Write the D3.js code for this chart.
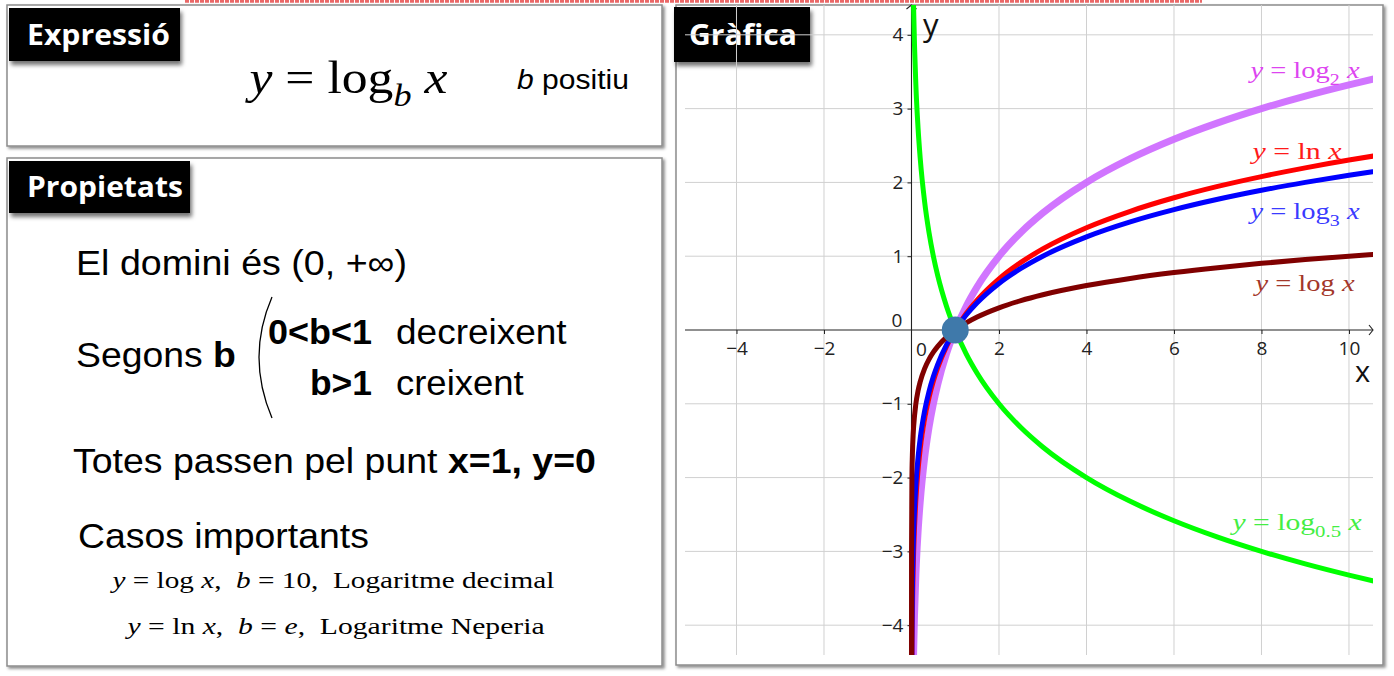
<!DOCTYPE html>
<html><head><meta charset="utf-8">
<script src="https://cdn.jsdelivr.net/npm/d3@7"></script>
<style>
html,body{margin:0;padding:0;background:#fff;}
svg{display:block;}
text{white-space:pre;}
</style></head>
<body>
<svg id="c" width="1394" height="676"></svg>
<script>
// ---------------- DATA ----------------
const xTicks = [-4, -2, 0, 2, 4, 6, 8, 10];
const yTicks = [-4, -3, -2, -1, 0, 1, 2, 3, 4];
const xGrid = [-4, -2, 2, 4, 6, 8, 10];
const yGrid = [-4, -3, -2, -1, 1, 2, 3, 4];
const xSamples = [0.00003, 0.001, 0.01, 0.02, 0.04, 0.05, 0.1, 0.15, 0.2, 0.3, 0.4, 0.5, 0.6, 0.8, 1, 1.25, 1.5, 2, 2.5, 3, 4, 5, 6, 7, 8, 9, 10, 10.6];
const log2Values = [-15.025, -9.966, -6.644, -5.644, -4.644, -4.322, -3.322, -2.737, -2.322, -1.737, -1.322, -1, -0.737, -0.322, 0, 0.322, 0.585, 1, 1.322, 1.585, 2, 2.322, 2.585, 2.807, 3, 3.170, 3.322, 3.406];
const lnValues = [-10.414, -6.908, -4.605, -3.912, -3.219, -2.996, -2.303, -1.897, -1.609, -1.204, -0.916, -0.693, -0.511, -0.223, 0, 0.223, 0.405, 0.693, 0.916, 1.099, 1.386, 1.609, 1.792, 1.946, 2.079, 2.197, 2.303, 2.361];
const log3Values = [-9.479, -6.288, -4.192, -3.561, -2.930, -2.727, -2.096, -1.727, -1.465, -1.096, -0.834, -0.631, -0.465, -0.203, 0, 0.203, 0.369, 0.631, 0.834, 1, 1.262, 1.465, 1.631, 1.771, 1.893, 2, 2.096, 2.149];
const log05Values = [15.025, 9.966, 6.644, 5.644, 4.644, 4.322, 3.322, 2.737, 2.322, 1.737, 1.322, 1, 0.737, 0.322, 0, -0.322, -0.585, -1, -1.322, -1.585, -2, -2.322, -2.585, -2.807, -3, -3.170, -3.322, -3.406];
const log10Values = [-4.523, -3, -2, -1.699, -1.398, -1.301, -1, -0.824, -0.699, -0.523, -0.398, -0.301, -0.222, -0.097, 0, 0.097, 0.176, 0.301, 0.398, 0.477, 0.602, 0.699, 0.778, 0.845, 0.903, 0.954, 1, 1.025];
const seriesNames = ["log2", "ln", "log3", "log05", "log10"];
const commonPoint = [1, 0];

// ---------------- STYLE ----------------
const seriesStyle = {
  log2:  {color: "#cc66ff", width: 7, opacity: 0.9},
  ln:    {color: "#ff0000", width: 5, opacity: 1},
  log3:  {color: "#0000ff", width: 5, opacity: 1},
  log05: {color: "#00ff00", width: 5, opacity: 1},
  log10: {color: "#800000", width: 5, opacity: 1}
};
const seriesValues = {log2: log2Values, ln: lnValues, log3: log3Values, log05: log05Values, log10: log10Values};

const svg = d3.select("#c");
const defs = svg.append("defs");
const sh = defs.append("filter").attr("id","sh").attr("x","-5%").attr("y","-5%").attr("width","115%").attr("height","120%");
sh.append("feDropShadow").attr("dx",2).attr("dy",2).attr("stdDeviation",1.6).attr("flood-color","#000").attr("flood-opacity",0.45);
const sh2 = defs.append("filter").attr("id","sh2").attr("x","-10%").attr("y","-10%").attr("width","130%").attr("height","140%");
sh2.append("feDropShadow").attr("dx",2).attr("dy",4).attr("stdDeviation",2).attr("flood-color","#000").attr("flood-opacity",0.55);

// red dotted strip at top
svg.append("line").attr("x1",185).attr("x2",1202).attr("y1",1.3).attr("y2",1.3)
  .attr("stroke","#e85858").attr("stroke-width",3).attr("stroke-dasharray","4 1").attr("opacity",0.9);

// panels
function panel(x,y,w,h){
  svg.append("rect").attr("x",x).attr("y",y).attr("width",w).attr("height",h)
    .attr("fill","#fff").attr("stroke","#8c8c8c").attr("stroke-width",1.5).attr("filter","url(#sh)");
}
panel(7,5,655,141);
panel(7,158,655,508);
panel(676,5,707,660);

// text helper: segments [{t, i, b, sub}], fitted to width
function richText(segs, o){
  const g = svg.append("g");
  const t = g.append("text").attr("font-family", o.family).attr("font-size", o.size)
    .attr("fill", o.fill || "#000").attr("font-weight", o.weight || "normal")
    .attr("xml:space","preserve");
  let shift = 0;
  segs.forEach(s => {
    const ts = t.append("tspan").text(s.t);
    if (s.i) ts.attr("font-style","italic");
    if (s.b) ts.attr("font-weight","bold");
    const target = s.sub ? o.size*0.28 : 0;
    if (target !== shift){ ts.attr("dy", target - shift); shift = target; }
    if (s.sub) ts.attr("font-size", o.size*0.7);
  });
  const bb = t.node().getBBox();
  const sx = o.width ? o.width / bb.width : 1;
  g.attr("transform", `translate(${o.x - bb.x*sx},${o.y}) scale(${sx},1)`);
  return g;
}

// header boxes
function header(label, x, y, w, h, tx, tw){
  svg.append("rect").attr("x",x).attr("y",y).attr("width",w).attr("height",h).attr("fill","#000").attr("filter","url(#sh2)");
  richText([{t:label}], {x:tx, y:y+h/2+10, size:28, family:"Open Sans", weight:"bold", fill:"#fff", width:tw});
}
header("Expressió", 9, 8, 171, 53, 27, 143);
header("Propietats", 9, 161, 181, 52, 27, 156);
header("Gràfica", 674, 7, 136, 55, 689, 108);

const SERIF = "Liberation Serif";
const SANS = "Liberation Sans";
const SP = "\u2002";

// Expressió content
richText([{t:"y",i:1},{t:" = "},{t:"log"},{t:"b",i:1,sub:1},{t:" "},{t:"x",i:1}], {x:245, y:93, size:46, family:SERIF, width:203});
richText([{t:"b",i:1},{t:" positiu"}], {x:517, y:89, size:27, family:SANS, width:112});

// Propietats content
richText([{t:"El domini és (0, +∞)"}], {x:76, y:275, size:35, family:SANS, width:331});
richText([{t:"Segons "},{t:"b",b:1}], {x:76, y:367, size:35, family:SANS, width:160});
richText([{t:"0<b<1",b:1}], {x:268, y:344, size:35, family:SANS, width:104});
richText([{t:"decreixent"}], {x:396, y:344, size:35, family:SANS, width:171});
richText([{t:"b>1",b:1}], {x:310, y:395, size:35, family:SANS, width:62});
richText([{t:"creixent"}], {x:396, y:395, size:35, family:SANS, width:128});
svg.append("path").attr("d","M272,297 Q246,357 272,418").attr("fill","none").attr("stroke","#000").attr("stroke-width",1.3);
richText([{t:"Totes passen pel punt "},{t:"x=1, y=0",b:1}], {x:73, y:473, size:35, family:SANS, width:523});
richText([{t:"Casos importants"}], {x:78, y:548, size:35, family:SANS, width:291});
richText([{t:"y",i:1},{t:" = log "},{t:"x",i:1},{t:","+SP},{t:"b",i:1},{t:" = 10,"+SP+"Logaritme decimal"}], {x:110, y:588, size:24, family:SERIF, width:445});
richText([{t:"y",i:1},{t:" = ln "},{t:"x",i:1},{t:","+SP},{t:"b",i:1},{t:" = "},{t:"e",i:1},{t:","+SP+"Logaritme Neperia"}], {x:125, y:634, size:24, family:SERIF, width:420});

// ---------------- GRAPH ----------------
const plot = {left:685, right:1373, top:5, bottom:655};
const x = d3.scaleLinear().domain([-5.177, 10.549]).range([plot.left, plot.right]);
const y = d3.scaleLinear().domain([-4.404, 4.404]).range([plot.bottom, plot.top]);

defs.append("clipPath").attr("id","clip").append("rect")
  .attr("x",plot.left).attr("y",plot.top).attr("width",plot.right-plot.left).attr("height",plot.bottom-plot.top);

const gGrid = svg.append("g").attr("stroke","#d0d0d0").attr("stroke-width",1);
gGrid.selectAll("line.v").data(xGrid).join("line")
  .attr("x1",d=>x(d)).attr("x2",d=>x(d)).attr("y1",plot.top).attr("y2",plot.bottom);
gGrid.selectAll("line.h").data(yGrid).join("line")
  .attr("x1",plot.left).attr("x2",plot.right).attr("y1",d=>y(d)).attr("y2",d=>y(d));

// axes
const ax = svg.append("g").attr("stroke","#222").attr("stroke-width",1.1).attr("fill","none");
ax.append("line").attr("x1",plot.left).attr("x2",plot.right).attr("y1",y(0)).attr("y2",y(0));
ax.append("line").attr("x1",x(0)).attr("x2",x(0)).attr("y1",plot.bottom).attr("y2",plot.top);
ax.append("path").attr("d",`M${plot.right-4},${y(0)-5} L${plot.right},${y(0)} L${plot.right-4},${y(0)+5}`);
ax.append("path").attr("d",`M${x(0)-5},${plot.top+4} L${x(0)},${plot.top} L${x(0)+5},${plot.top+4}`);

const TF = 19;
const xAxis = d3.axisBottom(x).tickValues(xTicks.filter(d=>d!==0)).tickSize(4).tickFormat(d=>d<0?"\u2212"+(-d):d);
const gx = svg.append("g").attr("transform",`translate(0,${y(0)})`).call(xAxis);
gx.select(".domain").remove();
gx.selectAll("line").attr("stroke","#222");
gx.selectAll("text").attr("font-family","Open Sans").attr("font-size",TF).attr("fill","#222").attr("dy","0.95em");
svg.append("text").attr("x",x(0)+10).attr("y",y(0)+26).attr("text-anchor","middle")
  .attr("font-family","Open Sans").attr("font-size",TF).attr("fill","#222").text(xTicks[2]);

const yAxis = d3.axisLeft(y).tickValues(yTicks.filter(d=>d!==0)).tickSize(4).tickFormat(d=>d<0?"\u2212"+(-d):d);
const gy = svg.append("g").attr("transform",`translate(${x(0)},0)`).call(yAxis);
gy.select(".domain").remove();
gy.selectAll("line").attr("stroke","#222");
gy.selectAll("text").attr("font-family","Open Sans").attr("font-size",TF).attr("fill","#222").attr("x",-8);
svg.append("text").attr("x",x(0)-9).attr("y",y(0)-3).attr("text-anchor","end")
  .attr("font-family","Open Sans").attr("font-size",TF).attr("fill","#222").text(yTicks[4]);

// axis names
svg.append("text").attr("x",923).attr("y",36).attr("font-family","Open Sans").attr("font-size",31).attr("fill","#111").text("y");
svg.append("text").attr("x",1355).attr("y",382).attr("font-family","Open Sans").attr("font-size",29).attr("fill","#111").text("x");

// curves
const line = d3.line().x(d=>x(d[0])).y(d=>y(d[1])).curve(d3.curveMonotoneX);
const gc = svg.append("g").attr("clip-path","url(#clip)");
seriesNames.forEach(n => {
  const st = seriesStyle[n];
  gc.append("path").datum(xSamples.map((v,i)=>[v, seriesValues[n][i]]))
    .attr("d", line).attr("fill","none").attr("stroke", st.color)
    .attr("stroke-width", st.width).attr("stroke-opacity", st.opacity)
    .attr("stroke-linejoin","round").attr("stroke-linecap","round");
});

// common point
svg.append("ellipse").attr("cx",x(commonPoint[0])).attr("cy",y(commonPoint[1])).attr("rx",13.5).attr("ry",13.5)
  .attr("fill","#3f79aa");

// curve labels
richText([{t:"y",i:1},{t:" = "},{t:"log"},{t:"2",sub:1},{t:" "},{t:"x",i:1}], {x:1248, y:78, size:24, family:SERIF, fill:"#dd44f0", width:112});
richText([{t:"y",i:1},{t:" = ln "},{t:"x",i:1}], {x:1250, y:159, size:24, family:SERIF, fill:"#ff1a1a", width:92});
richText([{t:"y",i:1},{t:" = "},{t:"log"},{t:"3",sub:1},{t:" "},{t:"x",i:1}], {x:1248, y:219, size:24, family:SERIF, fill:"#3a3aff", width:112});
richText([{t:"y",i:1},{t:" = log "},{t:"x",i:1}], {x:1253, y:291, size:24, family:SERIF, fill:"#a3372a", width:102});
richText([{t:"y",i:1},{t:" = "},{t:"log"},{t:"0.5",sub:1},{t:" "},{t:"x",i:1}], {x:1230, y:530, size:24, family:SERIF, fill:"#44ee44", width:132});
</script>
</body></html>
